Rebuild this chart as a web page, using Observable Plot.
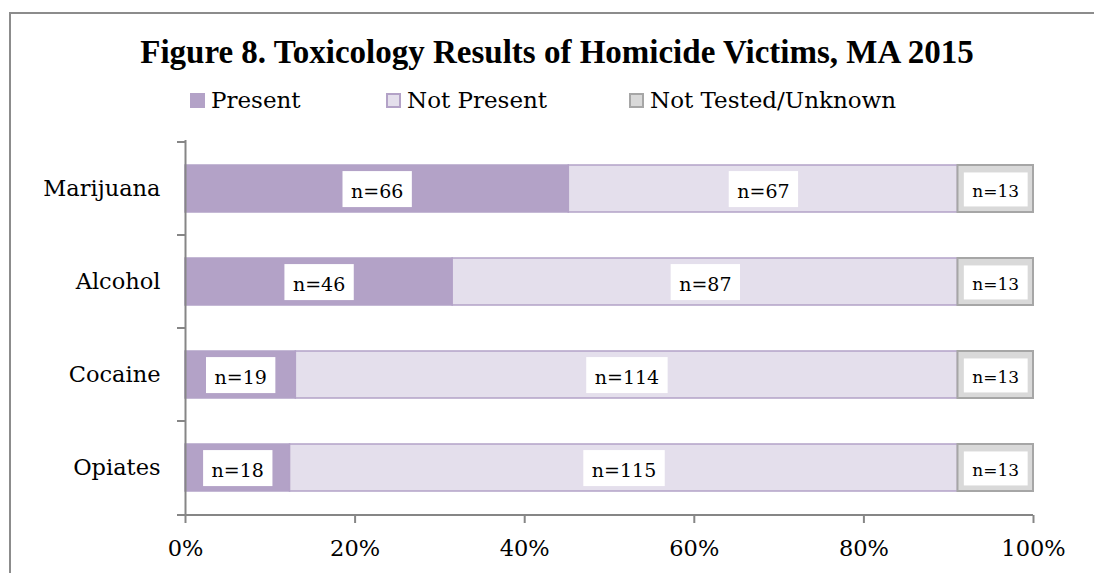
<!DOCTYPE html>
<html>
<head>
<meta charset="utf-8">
<script src="https://cdn.jsdelivr.net/npm/d3@7"></script>
<script src="https://cdn.jsdelivr.net/npm/@observablehq/plot@0.6"></script>
<style>
  html, body { margin: 0; padding: 0; background: #fff; }
  #wrap { position: relative; width: 1094px; height: 573px; overflow: hidden; font-family: "DejaVu Serif", serif; color: #000; }
  #frame { position: absolute; left: 9px; top: 12px; width: 1100px; height: 620px; border: 2px solid #8c8c8c; }
  #title { position: absolute; left: 57px; width: 1000px; top: 36px; text-align: center; font-family: "Liberation Serif", serif; font-weight: bold; font-size: 33px; line-height: 33px; white-space: nowrap; }
  .sw { position: absolute; top: 93px; width: 15px; height: 15px; box-sizing: border-box; }
  .lt { position: absolute; top: 89px; font-size: 23px; line-height: 23px; white-space: nowrap; }
  #chart { position: absolute; left: 0; top: 120px; }
</style>
</head>
<body>
<div id="wrap">
  <div id="frame"></div>
  <div id="title"></div>
  <div id="legend"></div>
  <div id="chart"></div>
</div>
<script>
// ---- data ----
const titleText = "Figure 8. Toxicology Results of Homicide Victims, MA 2015";
const substances = ["Marijuana", "Alcohol", "Cocaine", "Opiates"];
const statuses = ["Present", "Not Present", "Not Tested/Unknown"];
const presentN = [66, 46, 19, 18];
const notPresentN = [67, 87, 114, 115];
const notTestedN = [13, 13, 13, 13];
const xTicks = [0, 0.2, 0.4, 0.6, 0.8, 1];

// ---- styles ----
const fills = ["#b3a2c7", "#e4dfec", "#d9d9d9"];
const strokes = ["#b3a2c7", "#b3a2c7", "#a6a6a6"];
const strokeWidths = [1.5, 1.5, 2];
const labelSizes = [19, 19, 17];
const legendLeft = [190, 386, 629];
const axisGray = "#868686";

document.getElementById("title").textContent = titleText;

const legend = document.getElementById("legend");
statuses.forEach((s, j) => {
  const sw = document.createElement("div");
  sw.className = "sw";
  sw.style.left = legendLeft[j] + "px";
  sw.style.background = fills[j];
  sw.style.border = j === 0 ? "none" : `2px solid ${strokes[j]}`;
  legend.appendChild(sw);
  const t = document.createElement("div");
  t.className = "lt";
  t.style.left = (legendLeft[j] + 21) + "px";
  t.textContent = s;
  legend.appendChild(t);
});

const counts = [presentN, notPresentN, notTestedN];
const rows = substances.flatMap((s, i) =>
  statuses.map((st, j) => ({substance: s, status: st, n: counts[j][i]})));

const stackOpts = {x: "n", y: "substance", z: "status", offset: "normalize"};

const marks = [];
statuses.forEach((st, j) => {
  marks.push(Plot.barX(rows, Plot.filter(d => d.status === st, Plot.stackX({
    ...stackOpts,
    fill: fills[j],
    stroke: strokes[j],
    strokeWidth: strokeWidths[j]
  }))));
});
marks.push(Plot.ruleX([0], {stroke: axisGray, strokeWidth: 2}));
statuses.forEach((st, j) => {
  marks.push(Plot.text(rows, Plot.filter(d => d.status === st, Plot.stackX({
    ...stackOpts,
    text: d => "n=" + d.n,
    fontSize: labelSizes[j],
    fill: "black",
    dy: 3
  }))));
});

const chart = Plot.plot({
  width: 1094,
  height: 453,
  marginLeft: 185,
  marginRight: 61,
  marginTop: 20,
  marginBottom: 58,
  style: {fontFamily: "'DejaVu Serif', serif", fontSize: "22.5px", color: "black", background: "transparent", overflow: "visible"},
  x: {domain: [0, 1], ticks: xTicks, tickFormat: d => Math.round(d * 100) + "%", tickSize: 8, tickPadding: 17, label: null},
  y: {domain: substances, paddingInner: 0.5, paddingOuter: 0.25, tickSize: 0, tickPadding: 25, label: null},
  marks
});

document.getElementById("chart").appendChild(chart);

const svg = d3.select(chart);
const ns = "http://www.w3.org/2000/svg";

// white label boxes behind the segment labels
svg.selectAll('g[aria-label="text"] text').each(function () {
  const b = this.getBBox();
  const r = document.createElementNS(ns, "rect");
  const w = b.width + 17;
  const h = b.height + 14;
  r.setAttribute("x", b.x + b.width / 2 - w / 2);
  r.setAttribute("y", b.y + b.height / 2 - h / 2 - 2);
  r.setAttribute("width", w);
  r.setAttribute("height", h);
  r.setAttribute("fill", "white");
  r.setAttribute("stroke", "none");
  const tr = this.getAttribute("transform");
  if (tr) r.setAttribute("transform", tr);
  this.parentNode.insertBefore(r, this);
});

// recolor x-axis ticks
svg.selectAll('[aria-label^="x-axis"] path, [aria-label^="x-axis"] line')
  .attr("stroke", axisGray).attr("stroke-width", 2);

// x-axis line and category separator ticks (from the library's scales)
const xs = chart.scale("x");
const ys = chart.scale("y");
const x0 = xs.apply(0), x1 = xs.apply(1);
const yBot = ys.range[1];
const g = svg.append("g").attr("stroke", axisGray).attr("stroke-width", 2);
g.append("line").attr("x1", x0 - 8).attr("x2", x1).attr("y1", yBot).attr("y2", yBot);
const edges = substances.map(s => ys.apply(s) - (ys.step - ys.bandwidth) / 2);
edges.push(yBot);
edges.forEach(e => g.append("line").attr("x1", x0 - 8).attr("x2", x0).attr("y1", e).attr("y2", e));
</script>
</body>
</html>
